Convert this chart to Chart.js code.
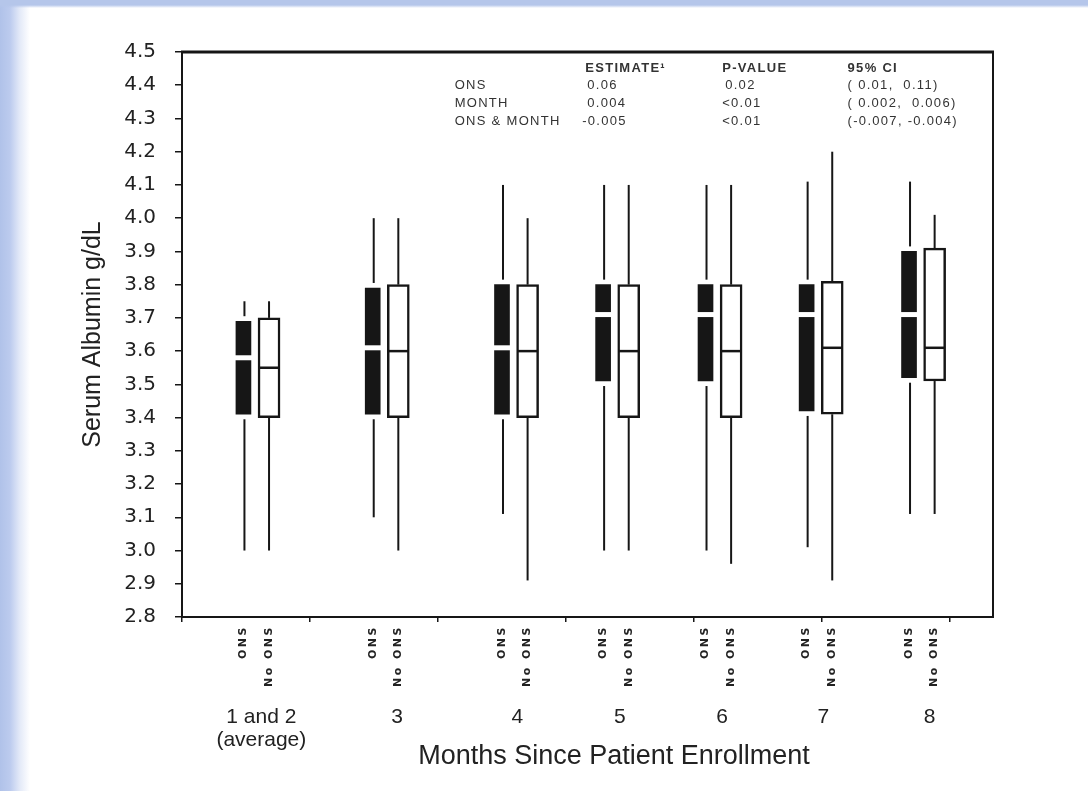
<!DOCTYPE html>
<html>
<head>
<meta charset="utf-8">
<script src="https://cdn.jsdelivr.net/npm/chart.js@4.4.1/dist/chart.umd.min.js"></script>
<style>
  html, body { margin: 0; padding: 0; }
  body {
    width: 1088px; height: 791px; overflow: hidden;
    background:
      linear-gradient(to bottom, #b5c6ea 0px, #b5c6ea 5px, rgba(255,255,255,0) 8px),
      linear-gradient(to right, #b0c2e9 0px, #bccbee 10px, #e4eaf8 20px, #ffffff 30px);
  }
  canvas { display: block; }
</style>
</head>
<body>
<canvas id="albuminChart" width="1088" height="791"></canvas>
<script>
// ------------------------------------
// Data
// ------------------------------------
const monthLabels = [['1 and 2', '(average)'], '3', '4', '5', '6', '7', '8'];
const seriesNames = ['ONS', 'No ONS'];
const xTitle = 'Months Since Patient Enrollment';

// ONS group
const onsMin = [3.00, 3.10, 3.11, 3.00, 3.00, 3.01, 3.11];
const onsQ1  = [3.41, 3.41, 3.41, 3.51, 3.51, 3.42, 3.52];
const onsMed = [3.58, 3.61, 3.61, 3.71, 3.71, 3.71, 3.71];
const onsQ3  = [3.69, 3.79, 3.80, 3.80, 3.80, 3.80, 3.90];
const onsMax = [3.75, 4.00, 4.10, 4.10, 4.10, 4.11, 4.11];

// No ONS group
const noMin = [3.00, 3.00, 2.91, 3.00, 2.96, 2.91, 3.11];
const noQ1  = [3.40, 3.40, 3.40, 3.40, 3.40, 3.41, 3.51];
const noMed = [3.55, 3.60, 3.60, 3.60, 3.60, 3.61, 3.61];
const noQ3  = [3.70, 3.80, 3.80, 3.80, 3.80, 3.81, 3.91];
const noMax = [3.75, 4.00, 4.00, 4.10, 4.10, 4.20, 4.01];

const yTicks = [2.8, 2.9, 3.0, 3.1, 3.2, 3.3, 3.4, 3.5, 3.6, 3.7, 3.8, 3.9, 4.0, 4.1, 4.2, 4.3, 4.4, 4.5];

// model summary table shown inside the plot
const tableHeader = ['ESTIMATE\u00b9', 'P-VALUE', '95% CI'];
const tableRows = ['ONS', 'MONTH', 'ONS & MONTH'];
const tableEstimate = ['0.06', '0.004', '-0.005'];
const tablePValue = ['0.02', '<0.01', '<0.01'];
const tableCI = ['( 0.01,  0.11)', '( 0.002,  0.006)', '(-0.007, -0.004)'];

// ------------------------------------
// Layout (x axis in tick units, slots are not evenly spaced in the original)
// ------------------------------------
const xMax = 6.336;
const groupSlot = [0.48, 1.49, 2.50, 3.29, 4.09, 4.88, 5.68];
const pairGap = 0.2;
const monthShift = [0.14, 0.19, 0.12, 0.13, 0.13, 0.13, 0.16];
const xTitleAt = 3.375;
const tableCols = [2.13, 3.15, 4.22, 5.20];
const tableRowsY = [4.452, 4.398, 4.346, 4.292];

const INK = '#161616';

// ------------------------------------
// Whiskers, medians, frame, labels
// ------------------------------------
const boxExtras = {
  id: 'boxExtras',
  afterDatasetsDraw(chart) {
    const { ctx, scales: { x, y } } = chart;
    const seg = (x1, y1, x2, y2) => { ctx.beginPath(); ctx.moveTo(x1, y1); ctx.lineTo(x2, y2); ctx.stroke(); };
    ctx.save();
    ctx.lineCap = 'butt';
    groupSlot.forEach((slot, i) => {
      // ONS: whiskers stop a little short of the filled box
      const xo = x.getPixelForValue(slot);
      ctx.strokeStyle = INK; ctx.lineWidth = 2;
      seg(xo + 1, y.getPixelForValue(onsMax[i]), xo + 1, y.getPixelForValue(onsQ3[i]) - 5);
      seg(xo + 1, y.getPixelForValue(onsQ1[i]) + 5, xo + 1, y.getPixelForValue(onsMin[i]));
      ctx.strokeStyle = '#ffffff'; ctx.lineWidth = 5;
      const mo = y.getPixelForValue(onsMed[i]);
      seg(xo - 9, mo, xo + 9, mo);

      // No ONS: whiskers join the outlined box
      const xn = x.getPixelForValue(slot + pairGap);
      ctx.strokeStyle = INK; ctx.lineWidth = 2;
      seg(xn, y.getPixelForValue(noMax[i]), xn, y.getPixelForValue(noQ3[i]));
      seg(xn, y.getPixelForValue(noQ1[i]), xn, y.getPixelForValue(noMin[i]));
      ctx.lineWidth = 2.5;
      const mn = y.getPixelForValue(noMed[i]);
      seg(xn - 10, mn, xn + 10, mn);
    });
    ctx.restore();
  },
  afterDraw(chart) {
    const { ctx, chartArea: a, scales: { x, y } } = chart;
    ctx.save();
    // plot frame
    ctx.strokeStyle = INK;
    ctx.lineWidth = 2;
    ctx.strokeRect(a.left, a.top, a.right - a.left, a.bottom - a.top);
    ctx.lineWidth = 3;
    ctx.beginPath(); ctx.moveTo(a.left - 1, a.top); ctx.lineTo(a.right + 1, a.top); ctx.stroke();

    // rotated ONS / No ONS labels under each box
    ctx.fillStyle = '#222';
    ctx.font = 'bold 11px "DejaVu Sans"';
    ctx.letterSpacing = '2.5px';
    ctx.textAlign = 'right';
    ctx.textBaseline = 'middle';
    groupSlot.forEach(slot => {
      [slot, slot + pairGap].forEach((pos, k) => {
        ctx.save();
        ctx.translate(x.getPixelForValue(pos), a.bottom + 8);
        ctx.rotate(-Math.PI / 2);
        ctx.fillText(seriesNames[k], 0, 0);
        ctx.restore();
      });
    });

    // x axis title (sits right of centre in the original)
    ctx.letterSpacing = '0px';
    ctx.textAlign = 'center';
    ctx.font = '27px "Liberation Sans"';
    ctx.fillText(xTitle, x.getPixelForValue(xTitleAt), a.bottom + 140);

    // summary table
    ctx.letterSpacing = '1.3px';
    ctx.textAlign = 'left';
    ctx.fillStyle = '#333';
    ctx.font = 'bold 13px "Liberation Sans"';
    tableHeader.forEach((h, c) => ctx.fillText(h, x.getPixelForValue(tableCols[c + 1]), y.getPixelForValue(tableRowsY[0])));
    ctx.font = '13px "Liberation Sans"';
    tableRows.forEach((r, i) => {
      const yy = y.getPixelForValue(tableRowsY[i + 1]);
      ctx.fillText(r, x.getPixelForValue(tableCols[0]), yy);
      ctx.fillText(tableEstimate[i], x.getPixelForValue(tableCols[1]) + (tableEstimate[i][0] === '-' ? -3 : 2), yy);
      ctx.fillText(tablePValue[i], x.getPixelForValue(tableCols[2]) + (tablePValue[i][0] === '<' ? 0 : 3), yy);
      ctx.fillText(tableCI[i], x.getPixelForValue(tableCols[3]), yy);
    });
    ctx.restore();
  }
};

// ------------------------------------
// Chart
// ------------------------------------
const ctx = document.getElementById('albuminChart').getContext('2d');
new Chart(ctx, {
  type: 'bar',
  data: {
    datasets: [
      {
        label: seriesNames[0],
        data: groupSlot.map((s, i) => ({ x: s, y: [onsQ1[i], onsQ3[i]] })),
        backgroundColor: INK,
        borderWidth: 0,
        borderSkipped: false,
        maxBarThickness: 15
      },
      {
        label: seriesNames[1],
        data: groupSlot.map((s, i) => ({ x: s + pairGap, y: [noQ1[i], noQ3[i]] })),
        backgroundColor: '#ffffff',
        borderColor: INK,
        borderWidth: 2.5,
        borderSkipped: false,
        maxBarThickness: 22
      }
    ]
  },
  options: {
    responsive: false,
    animation: false,
    events: [],
    grouped: false,
    barPercentage: 1,
    categoryPercentage: 1,
    layout: { padding: { left: 0, top: 52, right: 95, bottom: 16 } },
    plugins: {
      legend: { display: false },
      tooltip: { enabled: false }
    },
    scales: {
      x: {
        type: 'linear',
        position: 'bottom',
        weight: 0,
        offset: false,
        min: 0,
        max: xMax,
        ticks: { display: false, stepSize: 1, includeBounds: false },
        grid: { offset: false, drawOnChartArea: false, tickLength: 5, color: INK, lineWidth: 1.5 },
        border: { display: false },
        afterFit: s => { s.height = 88; }
      },
      xm: {
        type: 'linear',
        position: 'bottom',
        weight: 1,
        offset: false,
        min: 0,
        max: xMax,
        grid: { display: false, drawTicks: false, offset: false },
        border: { display: false },
        afterBuildTicks: s => { s.ticks = groupSlot.map((v, i) => ({ value: v + monthShift[i] })); },
        ticks: {
          autoSkip: false,
          maxRotation: 0,
          padding: 1,
          color: '#222',
          font: { family: 'Liberation Sans', size: 21, lineHeight: 1.1 },
          callback: (v, i) => monthLabels[i]
        },
        afterFit: s => { s.height = 70; }
      },
      y: {
        min: 2.8,
        max: 4.5,
        afterBuildTicks: s => { s.ticks = yTicks.map(v => ({ value: v })); },
        ticks: {
          padding: 19,
          color: '#222',
          font: { family: 'DejaVu Sans', size: 20 },
          callback: v => v.toFixed(1)
        },
        grid: { drawOnChartArea: false, tickLength: 7, color: INK, lineWidth: 1.5 },
        border: { display: false },
        title: {
          display: true,
          text: 'Serum Albumin g/dL',
          color: '#222',
          font: { family: 'Liberation Sans', size: 25 },
          padding: { top: 78, bottom: 0 }
        },
        afterFit: s => { s.width = 182; }
      }
    }
  },
  plugins: [boxExtras]
});
</script>
</body>
</html>
